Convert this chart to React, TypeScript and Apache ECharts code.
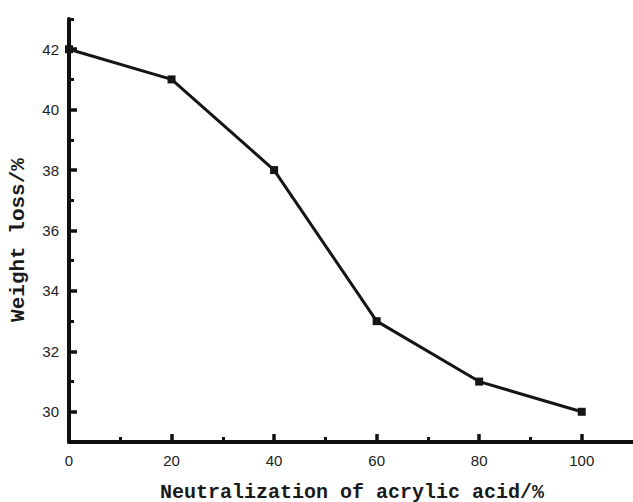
import React, { useEffect, useRef } from "react";
import * as echarts from "echarts";

const xValues = [0, 20, 40, 60, 80, 100];
const weightLoss = [42, 41, 38, 33, 31, 30];
const xMajorTicks = [0, 20, 40, 60, 80, 100];
const xMinorTicks = [10, 30, 50, 70, 90];
const yMajorTicks = [30, 32, 34, 36, 38, 40, 42];
const yMinorTicks = [29, 31, 33, 35, 37, 39, 41, 43];
const xTitle = "Neutralization of acrylic acid/%";
const yTitle = "Weight loss/%";

export default function App() {
  const ref = useRef<HTMLDivElement>(null);
  useEffect(() => {
    if (!ref.current) return;
    const chart = echarts.init(ref.current, null, { renderer: "svg" });
    const axisColor = "#111";
    const labelStyle = { color: "#222", fontSize: 15, fontFamily: "Liberation Sans, Arial, sans-serif" };
    chart.setOption({
      animation: false,
      backgroundColor: "#fff",
      grid: { left: 69, top: 19, right: -2, bottom: 60 },
      xAxis: [
        {
          type: "value",
          min: 0,
          max: 110,
          axisLine: { show: true, lineStyle: { color: axisColor, width: 4 } },
          axisTick: { show: true, inside: true, length: 8, lineStyle: { color: axisColor, width: 3.5 }, customValues: xMajorTicks },
          axisLabel: { show: true, margin: 11, ...labelStyle, customValues: xMajorTicks },
          splitLine: { show: false },
        },
        {
          type: "value",
          min: 0,
          max: 110,
          position: "bottom",
          axisLine: { show: false },
          axisTick: { show: true, inside: true, length: 5, lineStyle: { color: axisColor, width: 3 }, customValues: xMinorTicks },
          axisLabel: { show: false },
          splitLine: { show: false },
        },
      ],
      yAxis: [
        {
          type: "value",
          min: 29,
          max: 43,
          axisLine: { show: true, lineStyle: { color: axisColor, width: 4 } },
          axisTick: { show: true, inside: true, length: 8, lineStyle: { color: axisColor, width: 3.5 }, customValues: yMajorTicks },
          axisLabel: { show: true, margin: 10, ...labelStyle, customValues: yMajorTicks },
          splitLine: { show: false },
        },
        {
          type: "value",
          min: 29,
          max: 43,
          position: "left",
          axisLine: { show: false },
          axisTick: { show: true, inside: true, length: 5, lineStyle: { color: axisColor, width: 3 }, customValues: yMinorTicks },
          axisLabel: { show: false },
          splitLine: { show: false },
        },
      ],
      graphic: [
        {
          type: "text",
          x: 352,
          y: 492,
          style: {
            text: xTitle,
            fontSize: 20,
            fontWeight: "bold",
            fontFamily: "Liberation Mono, DejaVu Sans Mono, monospace",
            fill: "#1a1a1a",
            align: "center",
            verticalAlign: "middle",
          },
        },
        {
          type: "text",
          x: 18,
          y: 240,
          rotation: Math.PI / 2,
          style: {
            text: yTitle,
            fontSize: 21,
            fontWeight: "bold",
            fontFamily: "Liberation Mono, DejaVu Sans Mono, monospace",
            fill: "#1a1a1a",
            align: "center",
            verticalAlign: "middle",
          },
        },
      ],
      series: [
        {
          type: "line",
          xAxisIndex: 0,
          yAxisIndex: 0,
          data: xValues.map((x, i) => [x, weightLoss[i]]),
          symbol: "rect",
          symbolSize: 8,
          showAllSymbol: true,
          lineStyle: { color: "#151515", width: 3 },
          itemStyle: { color: "#151515" },
        },
      ],
    });
    return () => chart.dispose();
  }, []);
  return <div ref={ref} style={{ width: 633, height: 502, position: "absolute", left: 0, top: 0 }} />;
}
